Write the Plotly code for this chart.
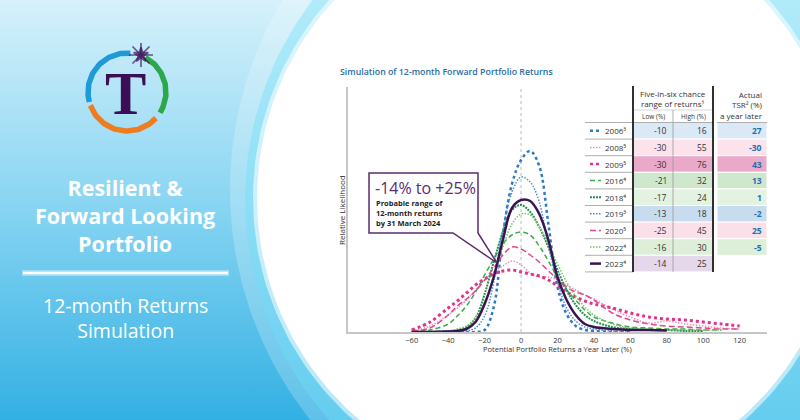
import numpy as np
import plotly.graph_objects as go

# ---- data ----
returns_x = [-60, -50, -40, -35, -30, -25, -20, -15, -10, -5, 0, 5, 10, 15, 20,
             25, 30, 35, 40, 50, 60, 70, 80, 90, 100, 110, 120]

y_2006 = [0, 0, 0, 0, 0, 0, 2, 25, 97, 148, 172, 181, 166, 108, 45, 18, 6, 2, 1, 0, 0,
          None, None, None, None, None, None]
y_2008 = [1, 6, 17, 24, 32, 42, 52, 60, 66, 71, 67, 59, 55, 55, 52, 47, 42, 37, 33, 23, 15,
          9, 11, 8, 6, 4, 3]
y_2009 = [2, 10, 24, 31, 39, 47, 53, 58, 61, 62, 60, 58, 56, 52, 46, 40, 35, 31, 28, 24, 19,
          15, 13, 12, 10, 8, 6]
y_2016 = [0, 2, 8, 16, 26, 40, 57, 73, 88, 97, 100, 97, 86, 71, 55, 42, 32, 22, 15, 9, 5,
          4, 3, 3, 2, 2, None]
y_2018 = [0, 0, 1, 2, 5, 14, 38, 70, 100, 122, 127, 120, 105, 85, 62, 42, 27, 17, 11, 5, 3,
          2, 2, 1, 1, None, None]
y_2019 = [0, 0, 0, 0, 1, 4, 16, 50, 102, 140, 155, 150, 130, 86, 50, 24, 11, 5, 3, 1, 0,
          None, None, None, None, None, None]
y_2020 = [1, 4, 17, 26, 33, 41, 52, 64, 77, 85, 83, 77, 70, 61, 53, 45, 40, 37, 32, 19, 12,
          8, 6, 5, 4, 3, 3]
y_2022 = [0, 0, 1, 3, 6, 14, 30, 55, 85, 108, 118, 117, 105, 88, 68, 50, 36, 25, 17, 8, 4,
          3, 2, 2, 2, 2, None]
y_2023 = [0, 0, 0.5, 1, 3, 10, 28, 55, 92, 124, 132, 131, 118, 92, 55, 32, 17, 8, 5, 3, 2,
          2, 1.5, None, None, None, None]

years = ['2006', '2008', '2009', '2016', '2018', '2019', '2020', '2022', '2023']
year_notes = ['³', '⁵', '⁵', '⁴', '⁴', '³', '⁵', '⁴', '⁴']
low_pct = [-10, -30, -30, -21, -17, -13, -25, -16, -14]
high_pct = [16, 55, 76, 32, 24, 18, 45, 30, 25]
tsr_pct = [27, -30, 43, 13, 1, -2, 25, -5, None]
tick_vals = [-60, -40, -20, 0, 20, 40, 60, 80, 100, 120]

series = [y_2006, y_2008, y_2009, y_2016, y_2018, y_2019, y_2020, y_2022, y_2023]

# ---- styles ----
colors = ['#2b7bc4', '#f08fb5', '#e0338a', '#3daa4a', '#23914c', '#4a8fd0', '#e0478d',
          '#72c862', '#3a1452']
dashes = ['dot', '1.5px,1.5px', 'dot', '5px,3px', '2px,1px', '1.5px,1.5px', '6px,3px',
          '1.5px,1.5px', 'solid']
widths = [2.5, 1.5, 3, 1.5, 2, 1.5, 1.5, 1.5, 2.5]
row_fills = ['#dbe8f5', '#fbe2eb', '#eaa9c8', '#cfe8cd', '#e4f2e1', '#c8dcf0', '#fbe0ea',
             '#ddefd9', '#e4d8ea']

fig = go.Figure()

# background (pixel coordinates on x/y)
fig.add_trace(go.Scatter(
    x=[0, 800, 800, 0, 0], y=[0, 0, 420, 420, 0], mode='lines', fill='toself',
    line=dict(width=0), hoverinfo='skip',
    fillgradient=dict(type='vertical',
                      colorscale=[[0, '#33b0e3'], [0.5, '#86d4f2'], [1, '#d6f1fb']])))


def circle(cx, cy, r, fill):
    t = np.linspace(0, 2 * np.pi, 240)
    fig.add_trace(go.Scatter(x=cx + r * np.cos(t), y=cy + r * np.sin(t), mode='lines',
                             fill='toself', fillcolor=fill, line=dict(width=0),
                             hoverinfo='skip'))


circle(600, 190, 370, 'rgba(255,255,255,0.22)')
circle(575, 200, 330, 'rgba(110,222,248,0.40)')
circle(549, 198, 296, 'rgba(255,255,255,0.55)')
circle(549, 198, 292, '#ffffff')

# logo arcs
lcx, lcy, lr = 127, 92, 39
for a0, a1, col in [(85, 195, '#1f9ad8'), (62, -32, '#2ba84a'), (200, 318, '#ee7d22')]:
    t = np.radians(np.linspace(a0, a1, 60))
    fig.add_trace(go.Scatter(x=lcx + lr * np.cos(t), y=lcy - lr * np.sin(t), mode='lines',
                             line=dict(color=col, width=5.5), hoverinfo='skip'))
fig.add_trace(go.Scatter(x=[141, 141], y=[55, 55], mode='markers', hoverinfo='skip',
                         marker=dict(symbol=['asterisk-open', 'star'], size=[20, 11],
                                     color='#3b0f55', line=dict(color='#3b0f55', width=1.6))))

# simulated return curves
for yr, ys, c, d, w in zip(years, series, colors, dashes, widths):
    fig.add_trace(go.Scatter(x=returns_x, y=ys, name=yr, mode='lines',
                             line=dict(color=c, dash=d, width=w, shape='spline'),
                             xaxis='x2', yaxis='y2', connectgaps=False))

shapes = []
ann = []

# zero line
shapes.append(dict(type='line', xref='x2', yref='y2', x0=0, x1=0, y0=0, y1=245,
                   line=dict(color='#b8b8b8', width=1, dash='dot'), layer='below'))

# divider on the left panel
shapes.append(dict(type='line', xref='x', yref='y', x0=22, x1=229, y0=273, y1=273,
                   line=dict(color='rgba(255,255,255,0.35)', width=6), layer='above'))
shapes.append(dict(type='line', xref='x', yref='y', x0=23, x1=228, y0=273, y1=273,
                   line=dict(color='#ffffff', width=2.5), layer='above'))

# callout box
shapes.append(dict(type='path', xref='x', yref='y', layer='above',
                   path='M 369,173 L 478,173 L 478,233 L 497,263 L 453,233 L 369,233 Z',
                   fillcolor='#ffffff', line=dict(color='#5b2c6f', width=1.5)))

# table
top_row = 122.5
row_h = 16.6
for i, yr in enumerate(years):
    y0 = top_row + i * row_h
    y1 = y0 + row_h
    yc = (y0 + y1) / 2
    shapes.append(dict(type='rect', xref='x', yref='y', x0=633, x1=713, y0=y0, y1=y1,
                       fillcolor=row_fills[i], line=dict(color='#ffffff', width=1), layer='above'))
    if tsr_pct[i] is not None:
        shapes.append(dict(type='rect', xref='x', yref='y', x0=717, x1=767, y0=y0, y1=y1,
                           fillcolor=row_fills[i], line=dict(color='#ffffff', width=1),
                           layer='above'))
    shapes.append(dict(type='line', xref='x', yref='y', x0=585, x1=633, y0=y1, y1=y1,
                       line=dict(color='#9a9a9a', width=0.8), layer='above'))
    shapes.append(dict(type='line', xref='x', yref='y', x0=590, x1=601, y0=yc, y1=yc,
                       line=dict(color=colors[i], dash=dashes[i], width=min(widths[i], 2.5)),
                       layer='above'))
    ann.append(dict(x=603, y=yc, text=yr + year_notes[i], xanchor='left',
                    font=dict(size=8, color='#333333')))
    ann.append(dict(x=669, y=yc, text=str(low_pct[i]), xanchor='right',
                    font=dict(size=8.5, color='#333333')))
    ann.append(dict(x=709, y=yc, text=str(high_pct[i]), xanchor='right',
                    font=dict(size=8.5, color='#333333')))
    if tsr_pct[i] is not None:
        ann.append(dict(x=764, y=yc, text=str(tsr_pct[i]), xanchor='right',
                        font=dict(size=8.5, color='#1f6fb0', weight='bold')))

table_bottom = top_row + len(years) * row_h
for xs0, xs1 in [(585, 633), (633, 713), (717, 767)]:
    shapes.append(dict(type='line', xref='x', yref='y', x0=xs0, x1=xs1, y0=top_row,
                       y1=top_row, line=dict(color='#9a9a9a', width=0.8), layer='above'))
shapes.append(dict(type='line', xref='x', yref='y', x0=633, x1=713, y0=110, y1=110,
                   line=dict(color='#bdbdbd', width=0.6), layer='above'))
shapes.append(dict(type='line', xref='x', yref='y', x0=673, x1=673, y0=110, y1=table_bottom,
                   line=dict(color='#9a9a9a', width=0.8), layer='above'))
for xv in [633, 713]:
    shapes.append(dict(type='line', xref='x', yref='y', x0=xv, x1=xv, y0=86, y1=table_bottom,
                       line=dict(color='#1a1a1a', width=1.8), layer='above'))

ann.append(dict(x=673, y=98, text='Five-in-six chance<br>range of returns¹',
                font=dict(size=8, color='#333333')))
ann.append(dict(x=653, y=116, text='Low (%)', font=dict(size=6.5, color='#333333')))
ann.append(dict(x=693, y=116, text='High (%)', font=dict(size=6.5, color='#333333')))
ann.append(dict(x=765, y=105, text='Actual<br>TSR² (%)<br>a year later',
                xanchor='right', align='right', font=dict(size=8, color='#333333')))

# chart texts
ann.append(dict(x=338, y=72, text='Simulation of 12-month Forward Portfolio Returns',
                xanchor='left', font=dict(size=8.8, color='#2a6ea6', weight=600)))
ann.append(dict(x=557, y=349, text='Potential Portfolio Returns a Year Later (%)',
                font=dict(size=7.5, color='#333333')))
ann.append(dict(x=341, y=210, text='Relative Likelihood', textangle=-90,
                font=dict(size=8, color='#333333')))
ann.append(dict(x=373, y=188, text='-14% to +25%', xanchor='left',
                font=dict(size=16, color='#5b2c6f')))
ann.append(dict(x=374, y=213, text='Probable range of<br>12-month returns<br>by 31 March 2024',
                xanchor='left', align='left', font=dict(size=7.5, color='#222222', weight='bold')))

# left panel texts
ann.append(dict(x=125, y=93, text='T', font=dict(family='Liberation Serif', size=62,
                                                   color='#3b0f55', weight='bold')))
ann.append(dict(x=125, y=215, text='Resilient &<br>Forward Looking<br>Portfolio',
                font=dict(size=21.5, color='#ffffff', weight='bold')))
ann.append(dict(x=125, y=318, text='12-month Returns<br>Simulation',
                font=dict(size=19.5, color='#ffffff')))

for a in ann:
    a.setdefault('xref', 'x')
    a.setdefault('yref', 'y')
    a.setdefault('showarrow', False)
    a.setdefault('yanchor', 'middle')

fig.update_layout(
    width=800, height=420, margin=dict(l=0, r=0, t=0, b=0),
    paper_bgcolor='#bfe9f8', plot_bgcolor='rgba(0,0,0,0)',
    font=dict(family='Open Sans, sans-serif'),
    showlegend=False,
    xaxis=dict(domain=[0, 1], range=[0, 800], visible=False, fixedrange=True),
    yaxis=dict(domain=[0, 1], range=[420, 0], visible=False, fixedrange=True),
    xaxis2=dict(domain=[348 / 800, 767 / 800], range=[-95, 135], anchor='y2',
                showline=True, linecolor='#c6c6c6', linewidth=1.5, showgrid=False,
                zeroline=False, tickvals=tick_vals, ticks='',
                tickfont=dict(size=7.5, color='#333333')),
    yaxis2=dict(domain=[(420 - 332) / 420, (420 - 87) / 420], range=[0, 245], anchor='x2',
                showline=True, linecolor='#c6c6c6', linewidth=1.5, showgrid=False,
                zeroline=False, showticklabels=False, ticks=''),
    shapes=shapes, annotations=ann,
)

fig.write_html('out.html', config={'displayModeBar': False},
               post_script="document.body.style.margin='0';")
